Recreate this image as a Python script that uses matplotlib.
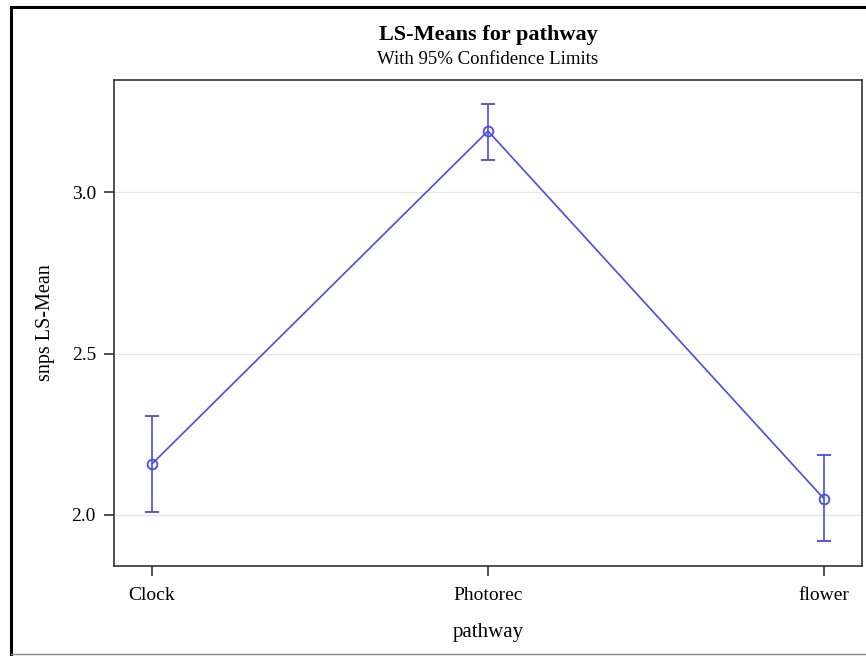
import matplotlib
matplotlib.use("Agg")
import matplotlib.pyplot as plt
from matplotlib.lines import Line2D

categories = ["Clock", "Photorec", "flower"]
lsmeans = [2.158, 3.189, 2.050]
lower_cl = [2.009, 3.099, 1.919]
upper_cl = [2.307, 3.272, 2.186]
yticks = [2.0, 2.5, 3.0]

plt.rcParams['font.family'] = ['Liberation Serif', 'DejaVu Serif']

W, H = 866, 656
fig = plt.figure(figsize=(W/100, H/100), dpi=100)
ax = fig.add_axes([114/W, 1-566/H, (862-114)/W, (566-80)/H])

color = '#4B4BE6'
x = list(range(len(categories)))
yerr = [[m - l for m, l in zip(lsmeans, lower_cl)], [u - m for m, u in zip(lsmeans, upper_cl)]]
ax.plot(x, lsmeans, color=color, lw=1.2, zorder=3)
ax.errorbar(x, lsmeans, yerr=yerr, fmt='o', mfc='none', mec=color, ms=7, mew=1.3,
            ecolor=color, elinewidth=1.2, capsize=4.7, capthick=1.2, zorder=4)

ax.set_xlim(-0.113, 2.113)
ax.set_ylim(1.842, 3.347)
ax.set_xticks(x)
ax.set_xticklabels(categories)
ax.set_yticks(yticks)
ax.set_yticklabels([f"{t:.1f}" for t in yticks])
ax.grid(axis='y', color='#e6e6e6', lw=1)
ax.set_axisbelow(True)
for s in ax.spines.values():
    s.set_color('#333333')
    s.set_linewidth(1.2)
ax.tick_params(axis='both', labelsize=14, length=7, width=1.2, color='#333333', pad=6)
ax.tick_params(axis='x', pad=8)
ax.set_xlabel("pathway", fontsize=15, labelpad=14)
ax.set_ylabel("snps LS-Mean", fontsize=14.5, labelpad=12)

fig.text(488/W, 1-35/H, "LS-Means for pathway", ha='center', va='center', fontsize=16, fontweight='bold')
fig.text(488/W, 1-59/H, "With 95% Confidence Limits", ha='center', va='center', fontsize=13.5)

# outer frame
fig.add_artist(Line2D([11/W, 11/W], [0, 1-7/H], transform=fig.transFigure, color='black', lw=2.2))
fig.add_artist(Line2D([11/W, 1], [1-7/H, 1-7/H], transform=fig.transFigure, color='black', lw=2.2))
fig.add_artist(Line2D([11/W, 1], [1-654/H, 1-654/H], transform=fig.transFigure, color='#888888', lw=1))

fig.savefig("out.png", dpi=100)
